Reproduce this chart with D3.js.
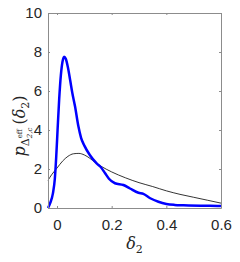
<!DOCTYPE html>
<html>
<head>
<script src="https://cdnjs.cloudflare.com/ajax/libs/d3/7.8.5/d3.min.js"></script>
<style>
body { margin: 0; background: #fff; }
svg text { font-family: "Liberation Sans", Arial, sans-serif; }
</style>
</head>
<body>
<div id="chart"></div>
<script>
// estimated density (blue) and fitted curve (black)
var blueX = [-0.033, -0.025, -0.015, -0.008, -0.003, 0.002, 0.008, 0.014, 0.02, 0.026, 0.032, 0.04, 0.048, 0.056, 0.066, 0.078, 0.088, 0.1, 0.12, 0.145, 0.16, 0.176, 0.19, 0.212, 0.243, 0.267, 0.298, 0.316, 0.341, 0.371, 0.4, 0.43, 0.463, 0.524, 0.56, 0.6];
var blueY = [0.0, 0.25, 0.75, 1.5, 2.6, 4.0, 5.6, 6.8, 7.5, 7.76, 7.65, 7.2, 6.56, 5.9, 5.2, 4.2, 3.6, 3.2, 2.72, 2.29, 2.1, 1.78, 1.5, 1.27, 1.18, 1.0, 0.78, 0.72, 0.5, 0.32, 0.21, 0.16, 0.14, 0.12, 0.12, 0.1];
var blackX = [-0.033, -0.02, 0, 0.02, 0.04, 0.06, 0.08, 0.1, 0.12, 0.14, 0.16, 0.2, 0.25, 0.3, 0.35, 0.4, 0.45, 0.5, 0.55, 0.6];
var blackY = [1.42, 1.7, 2.05, 2.4, 2.65, 2.78, 2.8, 2.72, 2.55, 2.33, 2.15, 1.85, 1.55, 1.3, 1.1, 0.88, 0.7, 0.55, 0.4, 0.25];
var xTicks = [0, 0.2, 0.4, 0.6];
var yTicks = [0, 2, 4, 6, 8, 10];

var width = 240, height = 262;
var mLeft = 48, mRight = 221, mTop = 13, mBottom = 208;

var svg = d3.select('#chart').append('svg')
    .attr('width', width)
    .attr('height', height);

var x = d3.scaleLinear().domain([-0.033, 0.6]).range([mLeft, mRight]);
var y = d3.scaleLinear().domain([0, 10]).range([mBottom, mTop]);

var axisColor = '#8c8c8c';
var textColor = '#262626';

// curves
var line = d3.line()
    .x(function(d) { return x(d[0]); })
    .y(function(d) { return y(d[1]); })
    .curve(d3.curveMonotoneX);

svg.append('path')
    .datum(blackX.map(function(v, i) { return [v, blackY[i]]; }))
    .attr('d', line)
    .attr('fill', 'none')
    .attr('stroke', '#000')
    .attr('stroke-width', 0.8);

svg.append('path')
    .datum(blueX.map(function(v, i) { return [v, blueY[i]]; }))
    .attr('d', line)
    .attr('fill', 'none')
    .attr('stroke', '#0000ff')
    .attr('stroke-width', 2.5)
    .attr('stroke-linejoin', 'round');

// axes: box with inward ticks on all sides
function styleAxis(g) {
    g.select('.domain').attr('stroke', axisColor);
    g.selectAll('.tick line').attr('stroke', axisColor);
    g.selectAll('.tick text').attr('fill', textColor).style('font-size', '15px');
}

svg.append('g')
    .attr('transform', 'translate(0,' + mBottom + ')')
    .call(d3.axisBottom(x).tickValues(xTicks).tickSizeInner(-2).tickSizeOuter(0).tickPadding(11).tickFormat(d3.format('')))
    .call(styleAxis);

svg.append('g')
    .attr('transform', 'translate(0,' + mTop + ')')
    .call(d3.axisTop(x).tickValues(xTicks).tickSizeInner(-2).tickSizeOuter(0).tickFormat(''))
    .call(styleAxis);

svg.append('g')
    .attr('transform', 'translate(' + mLeft + ',0)')
    .call(d3.axisLeft(y).tickValues(yTicks).tickSizeInner(-2).tickSizeOuter(0).tickPadding(6))
    .call(styleAxis);

svg.append('g')
    .attr('transform', 'translate(' + mRight + ',0)')
    .call(d3.axisRight(y).tickValues(yTicks).tickSizeInner(-2).tickSizeOuter(0).tickFormat(''))
    .call(styleAxis);

// x label
var xl = svg.append('text')
    .attr('x', (mLeft + mRight) / 2)
    .attr('y', 249)
    .attr('text-anchor', 'middle')
    .attr('fill', textColor)
    .style('font-family', '"DejaVu Serif", "Liberation Serif", serif')
    .style('font-size', '16px');
xl.append('tspan').style('font-style', 'italic').text('δ');
xl.append('tspan').attr('dy', 4).style('font-size', '11px').text('2');

// y label
var yl = svg.append('text')
    .attr('transform', 'translate(25,' + 126 + ') rotate(-90)')
    .attr('text-anchor', 'middle')
    .attr('fill', textColor)
    .style('font-family', '"DejaVu Serif", "Liberation Serif", serif')
    .style('font-size', '16px');
yl.append('tspan').style('font-style', 'italic').text('p');
yl.append('tspan').attr('dy', 4).style('font-size', '11px').text('Δ');
yl.append('tspan').attr('dy', -7).style('font-size', '7px').text('eff');
yl.append('tspan').attr('dx', -9).attr('dy', 10).style('font-size', '7px').style('font-style', 'italic').text('2,c');
yl.append('tspan').attr('dx', 3).attr('dy', -7).text('(');
yl.append('tspan').style('font-style', 'italic').text('δ');
yl.append('tspan').attr('dy', 4).style('font-size', '11px').text('2');
yl.append('tspan').attr('dy', -4).text(')');
</script>
</body>
</html>
